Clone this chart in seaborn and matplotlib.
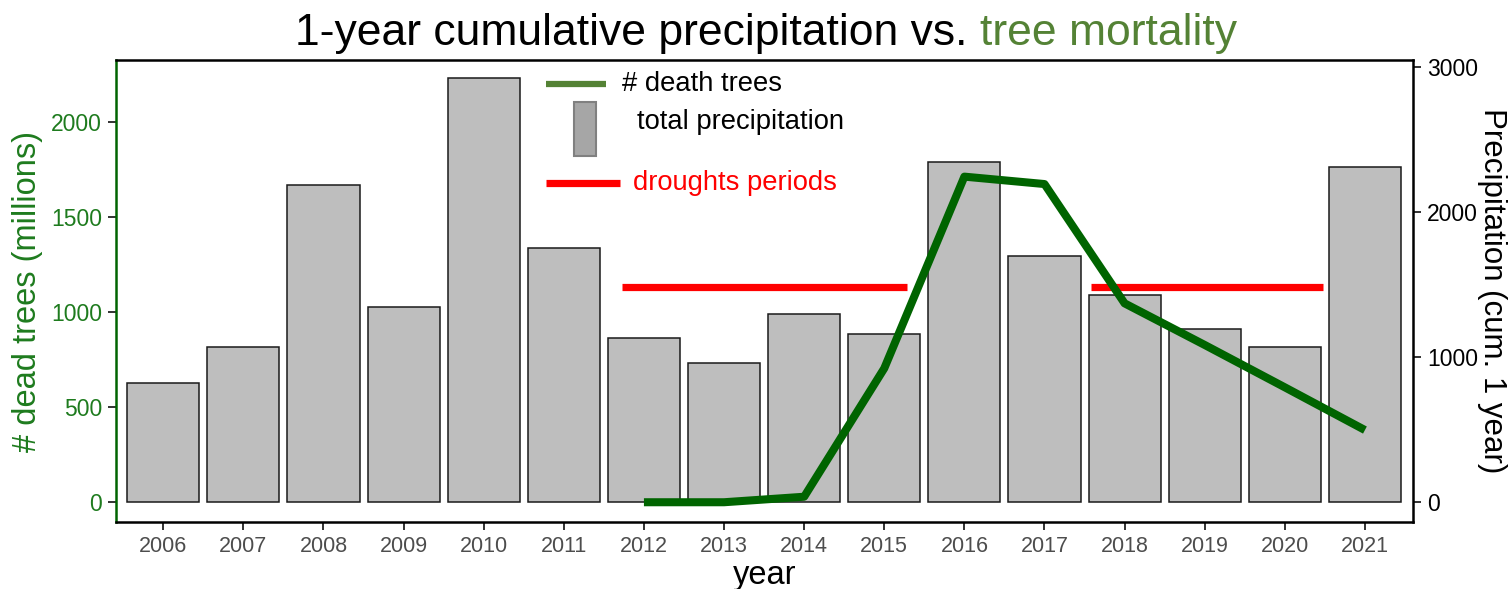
import matplotlib
matplotlib.use("Agg")
import matplotlib.pyplot as plt
from matplotlib.patches import Rectangle
import numpy as np
import pandas as pd
import seaborn as sns

# Data
years = list(range(2006, 2022))
precip = [821, 1069, 2188, 1347, 2924, 1754, 1135, 963, 1297, 1159,
          2349, 1699, 1428, 1193, 1071, 2310]
dead_years = [2012, 2013, 2014, 2015, 2016, 2017, 2018, 2019, 2020, 2021]
dead_trees = [0, 0, 29, 705, 1714, 1675, 1047, 828, 605, 380]
drought_start = [2011.72, 2017.58]
drought_end = [2015.28, 2020.48]
drought_level = [1132, 1132]

GREEN_LINE = "#006400"
GREEN_LABEL = "#1e7b1e"
GREEN_TITLE = "#548235"

sns.set_style("white")
plt.rcParams["font.family"] = ["Liberation Sans", "DejaVu Sans"]
plt.rcParams["text.color"] = "black"

df_bars = pd.DataFrame({"year": years, "precip": precip})
df_line = pd.DataFrame({"year": dead_years, "dead": dead_trees})

fig = plt.figure(figsize=(15.12, 5.89), dpi=100)
ax = fig.add_axes([116 / 1512, 1 - 522 / 589, 1297 / 1512, 462 / 589])
ax2 = ax.twinx()

# precipitation bars on the right axis
sns.barplot(data=df_bars, x="year", y="precip", ax=ax2, native_scale=True,
            width=0.9, color="#bebebe", edgecolor="#1a1a1a", linewidth=1.1,
            saturation=1)

# drought periods and dead trees on the left axis (drawn on top)
ax.set_zorder(ax2.get_zorder() + 1)
ax.patch.set_visible(False)
ax.hlines(drought_level, drought_start, drought_end, color="red", lw=5.2)
sns.lineplot(data=df_line, x="year", y="dead", ax=ax, color=GREEN_LINE,
             lw=5.8, solid_capstyle="butt")

ax.set_xlim(2005.41, 2021.6)
ax.set_ylim(-104, 2328)
ax2.set_ylim(-136, 3050)
ax.set_xticks(years)
ax.set_yticks([0, 500, 1000, 1500, 2000])
ax2.set_yticks([0, 1000, 2000, 3000])

ax.set_xlabel("year", fontsize=23.5, color="black", labelpad=2)
ax.set_ylabel("# dead trees (millions)", fontsize=23.5, color=GREEN_LABEL, labelpad=6)
ax2.set_ylabel("Precipitation (cum. 1 year)", fontsize=22.5, color="black",
               rotation=270, va="center", ha="center")
ax2.yaxis.set_label_coords(1.061, 0.5)
ax2.set_xlabel("")

ax.tick_params(axis="x", labelsize=15.5, labelcolor="#4d4d4d", length=6,
               width=1.4, color="#333333", bottom=True, pad=4)
ax.tick_params(axis="y", labelsize=16.5, labelcolor=GREEN_LABEL, length=6,
               width=1.4, color="#333333", left=True, pad=4)
ax2.tick_params(axis="y", labelsize=16.5, labelcolor="black", length=6,
                width=1.4, color="#333333", right=True, pad=4)

for side in ["top", "bottom", "right"]:
    ax.spines[side].set_color("black")
    ax.spines[side].set_linewidth(1.8)
ax.spines["left"].set_color(GREEN_LINE)
ax.spines["left"].set_linewidth(1.8)
for s in ax2.spines.values():
    s.set_visible(False)

# hand-made legend inside the plot
tr = ax.transAxes
ax.plot([0.3315, 0.3778], [0.948, 0.948], transform=tr, color=GREEN_TITLE,
        lw=4.5, solid_capstyle="butt", clip_on=False)
ax.text(0.390, 0.948, "# death trees", transform=tr, fontsize=19.7,
        va="center", ha="left", color="black")
ax.add_patch(Rectangle((0.3531, 0.792), 0.017, 0.117, transform=tr,
                       facecolor="#a6a6a6", edgecolor="#808080", lw=1.5))
ax.text(0.4017, 0.866, "total precipitation", transform=tr, fontsize=19.7,
        va="center", ha="left", color="black")
ax.plot([0.3315, 0.3886], [0.734, 0.734], transform=tr, color="red",
        lw=5.2, solid_capstyle="butt", clip_on=False)
ax.text(0.3986, 0.734, "droughts periods", transform=tr, fontsize=19.7,
        va="center", ha="left", color="red")

# two-colour title
fig.canvas.draw()
t1 = fig.text(295 / 1512, 1 - 33 / 589, "1-year cumulative precipitation vs. ",
              fontsize=32, ha="left", va="center", color="black")
fig.canvas.draw()
bb = t1.get_window_extent()
fig.text(bb.x1 / fig.bbox.width, 1 - 33 / 589, "tree mortality",
         fontsize=32, ha="left", va="center", color=GREEN_TITLE)

fig.savefig("out.png", dpi=100)
